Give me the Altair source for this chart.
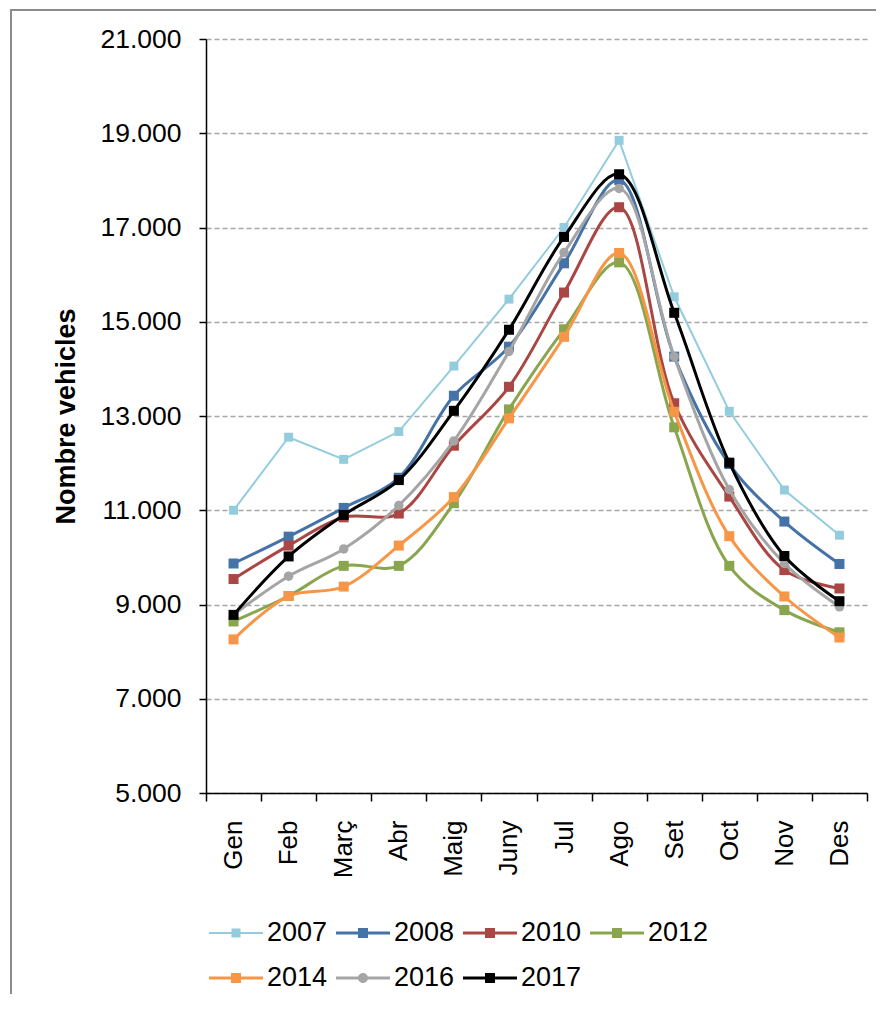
import altair as alt
import pandas as pd

months = ["Gen", "Feb", "Març", "Abr", "Maig", "Juny", "Jul", "Ago", "Set", "Oct", "Nov", "Des"]
series = ["2007", "2008", "2010", "2012", "2014", "2016", "2017"]

v2007 = [11000, 12550, 12080, 12670, 14060, 15480, 17000, 18850, 15530, 13100, 11430, 10470]
v2008 = [9870, 10440, 11050, 11690, 13430, 14470, 16240, 18010, 14260, 11980, 10760, 9860]
v2010 = [9540, 10250, 10850, 10930, 12370, 13620, 15620, 17430, 13270, 11290, 9730, 9340]
v2012 = [8640, 9180, 9820, 9820, 11150, 13140, 14840, 16260, 12760, 9820, 8880, 8410]
v2014 = [8260, 9180, 9380, 10250, 11280, 12950, 14680, 16460, 13090, 10450, 9170, 8300]
v2016 = [8780, 9600, 10180, 11100, 12470, 14370, 16470, 17830, 14260, 11440, 9870, 8950]
v2017 = [8780, 10020, 10900, 11640, 13110, 14830, 16800, 18130, 15190, 12010, 10030, 9070]

colors = ["#93CDDD", "#4572A7", "#AA4643", "#89A54E", "#F79646", "#A5A5A5", "#000000"]
y_ticks = [5000, 7000, 9000, 11000, 13000, 15000, 17000, 19000, 21000]

values = {"2007": v2007, "2008": v2008, "2010": v2010, "2012": v2012,
          "2014": v2014, "2016": v2016, "2017": v2017}
rows = [{"mes": m, "serie": s, "valor": v}
        for s in series for m, v in zip(months, values[s])]
df = pd.DataFrame(rows)
legend_df = pd.DataFrame({"serie": series})

FONT = "Liberation Sans"

# legend glyphs (filled shapes): a line segment with its marker in the middle
CX = 0.6875
def leg_square(lh, h):
    return (f"M-1,-{lh}H2.375V{lh}H-1Z"
            f"M{CX - h},{-h}H{CX + h}V{h}H{CX - h}Z")

def leg_circle(lh, r):
    return (f"M-1,-{lh}H2.375V{lh}H-1Z"
            f"M{CX - r},0A{r},{r},0,1,1,{CX + r},0A{r},{r},0,1,1,{CX - r},0Z")

paths = [leg_square(0.0625, 0.281), leg_square(0.094, 0.3125),
         leg_square(0.094, 0.3125), leg_square(0.094, 0.3125),
         leg_square(0.094, 0.3125), leg_circle(0.094, 0.3125),
         leg_square(0.094, 0.3125)]

leg_props = dict(title=None, orient="none", legendX=3, legendY=878, columns=4,
                 direction="horizontal",
                 labelFont=FONT, labelFontSize=27, labelColor="#000000",
                 labelOffset=26, symbolSize=1024, columnPadding=8, rowPadding=16,
                 symbolStrokeWidth=0)

x_enc = alt.X(
    "mes:N", sort=months, bandPosition=0.5,
    scale=alt.Scale(type="band", paddingInner=0, paddingOuter=0),
    axis=alt.Axis(title=None, labelAngle=270, tickBand="extent", grid=False,
                  domainColor="#000000", domainWidth=1.5, tickColor="#000000",
                  tickWidth=1.5, tickSize=8, labelPadding=19, labelFontSize=26,
                  labelColor="#000000", labelFont=FONT),
)
y_enc = alt.Y(
    "valor:Q",
    scale=alt.Scale(domain=[5000, 21000], nice=False, zero=False),
    axis=alt.Axis(values=y_ticks, title="Nombre vehicles",
                  labelExpr="replace(format(datum.value, ','), ',', '.')",
                  grid=True, gridColor="#a6a6a6", gridDash=[5, 3], gridWidth=1.3,
                  domainColor="#000000", domainWidth=1.5, tickColor="#000000",
                  tickWidth=1.5, tickSize=7, labelPadding=18, labelFontSize=26.5,
                  labelColor="#000000", labelFont=FONT, titleFont=FONT,
                  titleFontSize=27, titleFontWeight="bold", titleColor="#000000",
                  titlePadding=19),
)
color_scale = alt.Scale(domain=series, range=colors)
color_enc = alt.Color("serie:N", scale=color_scale, legend=alt.Legend(**leg_props))

one = pd.DataFrame({"a": [0]})
border_left = alt.Chart(one).mark_rule(color="#8c8c8c", strokeWidth=2).encode(
    x=alt.value(-195), y=alt.value(-29), y2=alt.value(955))
border_top = alt.Chart(one).mark_rule(color="#8c8c8c", strokeWidth=2).encode(
    x=alt.value(-196), x2=alt.value(670), y=alt.value(-29))

# marks clipped out of view that carry the legend symbols (first, so the
# legend takes its filled-symbol styling)
legend_layer = alt.Chart(legend_df).mark_point(
    filled=True, opacity=1, size=1024, strokeWidth=0, clip=True
).encode(
    x=alt.value(-3000), y=alt.value(-3000),
    color=color_enc,
    shape=alt.Shape("serie:N", scale=alt.Scale(domain=series, range=paths),
                    legend=alt.Legend(**leg_props)),
)

layers = [border_left, border_top, legend_layer]
for s in series:
    base = alt.Chart(df).transform_filter(alt.datum.serie == s)
    if s == "2007":
        line = base.mark_line(interpolate="linear", strokeWidth=2)
    else:
        line = base.mark_line(interpolate="catmull-rom", strokeWidth=3)
    line = line.encode(x=x_enc, y=y_enc, color=color_enc)
    if s == "2016":
        pt = base.mark_circle(size=90, opacity=1)
    elif s == "2007":
        pt = base.mark_square(size=80, opacity=1)
    else:
        pt = base.mark_square(size=100, opacity=1)
    pt = pt.encode(x=x_enc, y=y_enc, color=color_enc)
    layers += [line, pt]

chart = alt.layer(*layers).properties(
    width=661, height=754, padding=1
).configure_view(strokeWidth=0)

chart.save("out.html", embed_options={"renderer": "svg", "actions": False})
